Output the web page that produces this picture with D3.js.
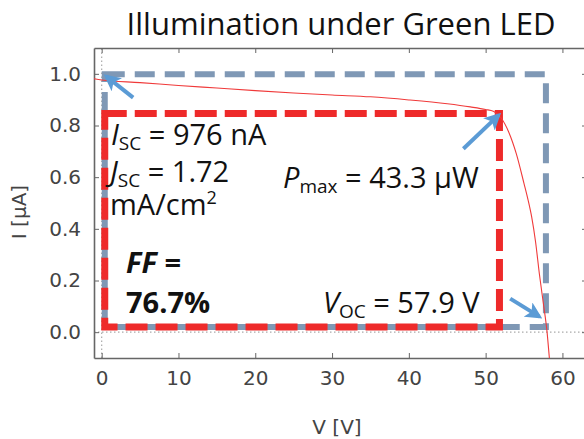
<!DOCTYPE html>
<html>
<head>
<meta charset="utf-8">
<script src="https://cdn.jsdelivr.net/npm/d3@7"></script>
<style>
  body { margin: 0; background: #fff; }
  svg { display: block; }
</style>
</head>
<body>
<div id="container"></div>
<script>
/* CONSTANTS AND GLOBALS */
const width = 584,
  height = 439,
  margin = { top: 48, bottom: 81, left: 94, right: -3 };

/* DATA */
// measured I-V curve
const voltage = [-1, 0, 5, 10, 15, 20, 25, 30, 35, 40, 45, 48, 50, 51, 52, 53, 54, 55, 55.5, 56, 56.5, 57, 57.5, 58, 58.3, 58.6];
const current = [0.981, 0.976, 0.966, 0.955, 0.945, 0.935, 0.926, 0.918, 0.911, 0.899, 0.884, 0.872, 0.862, 0.855, 0.83, 0.775, 0.69, 0.575, 0.515, 0.445, 0.35, 0.225, 0.115, 0.0, -0.1, -0.2];

const xTicks = [0, 10, 20, 30, 40, 50, 60];
const yTicks = [0.0, 0.2, 0.4, 0.6, 0.8, 1.0];

// rectangles: [v0, i0, v1, i1]
const maxPowerRect = [0.4, 0.02, 51.8, 0.846];
const idealRect = [0.4, 0.02, 57.85, 0.998];

// arrows: [tailV, tailI, tipV, tipI]
const arrows = [
  [4.1, 0.908, 0.6, 0.99],
  [47.1, 0.71, 51.7, 0.84],
  [53.2, 0.13, 57.0, 0.06]
];

/* SCALES */
const xScale = d3.scaleLinear()
  .domain([-1, 63.2])
  .range([margin.left, width - margin.right]);

const yScale = d3.scaleLinear()
  .domain([-0.1, 1.1])
  .range([height - margin.bottom, margin.top]);

/* HTML ELEMENTS */
const svg = d3.select("#container")
  .append("svg")
  .attr("width", width)
  .attr("height", height);

const axisColor = "#666";
const tickFont = "'DejaVu Sans', sans-serif";

// dotted zero lines
svg.append("line")
  .attr("x1", xScale(-1)).attr("x2", xScale(63.2))
  .attr("y1", yScale(0)).attr("y2", yScale(0))
  .attr("stroke", "#aaa").attr("stroke-width", 1.2)
  .attr("stroke-dasharray", "1.5,2.5");
svg.append("line")
  .attr("x1", xScale(0)).attr("x2", xScale(0))
  .attr("y1", yScale(-0.1)).attr("y2", yScale(1.1))
  .attr("stroke", "#aaa").attr("stroke-width", 1.2)
  .attr("stroke-dasharray", "1.5,2.5");

// axes (frame with inward ticks)
const xAxis = d3.axisBottom(xScale).tickValues(xTicks).tickSizeInner(-5).tickSizeOuter(0).tickPadding(13);
const yAxis = d3.axisLeft(yScale).tickValues(yTicks).tickSizeInner(-5).tickSizeOuter(0).tickPadding(13)
  .tickFormat(d3.format(".1f"));

const gx = svg.append("g")
  .attr("transform", `translate(0, ${height - margin.bottom})`)
  .call(xAxis);
const gy = svg.append("g")
  .attr("transform", `translate(${margin.left}, 0)`)
  .call(yAxis);
const gxTop = svg.append("g")
  .attr("transform", `translate(0, ${margin.top})`)
  .call(d3.axisTop(xScale).tickValues(xTicks).tickSizeInner(-5).tickSizeOuter(0).tickFormat(""));
const gyRight = svg.append("g")
  .attr("transform", `translate(${width - margin.right}, 0)`)
  .call(d3.axisRight(yScale).tickValues(yTicks).tickSizeInner(-5).tickSizeOuter(0).tickFormat(""));

[gx, gy, gxTop, gyRight].forEach(g => {
  g.select(".domain").attr("stroke", axisColor).attr("stroke-width", 1.6);
  g.selectAll(".tick line").attr("stroke", axisColor).attr("stroke-width", 1);
  g.selectAll(".tick text")
    .attr("fill", "#444")
    .style("font-family", tickFont)
    .style("font-size", "20px");
});

// rectangles
function rectPath(r) {
  const [v0, i0, v1, i1] = r;
  return `M${xScale(v0)},${yScale(i1)} L${xScale(v1)},${yScale(i1)} L${xScale(v1)},${yScale(i0)} L${xScale(v0)},${yScale(i0)} Z`;
}

svg.append("path")
  .attr("d", rectPath(idealRect))
  .attr("fill", "none")
  .attr("stroke", "#7f98b5")
  .attr("stroke-width", 6)
  .attr("stroke-dasharray", "20,10");

svg.append("path")
  .attr("d", rectPath(maxPowerRect))
  .attr("fill", "none")
  .attr("stroke", "#ee2a2a")
  .attr("stroke-width", 7)
  .attr("stroke-dasharray", "22,8");

// curve
const line = d3.line()
  .x(d => xScale(d[0]))
  .y(d => yScale(d[1]))
  .curve(d3.curveMonotoneX);

svg.append("defs").append("clipPath").attr("id", "plotclip")
  .append("rect")
  .attr("x", margin.left).attr("y", margin.top)
  .attr("width", width - margin.right - margin.left)
  .attr("height", height - margin.bottom - margin.top);

svg.append("path")
  .datum(d3.zip(voltage, current))
  .attr("clip-path", "url(#plotclip)")
  .attr("d", line)
  .attr("fill", "none")
  .attr("stroke", "#f03a3a")
  .attr("stroke-width", 1.1);

// arrows
const arrowColor = "#5b9bd5";
svg.select("defs").append("marker")
  .attr("id", "head")
  .attr("viewBox", "0 0 10 10")
  .attr("refX", 8).attr("refY", 5)
  .attr("markerWidth", 4.2).attr("markerHeight", 4.2)
  .attr("orient", "auto")
  .append("path")
  .attr("d", "M0,0 L10,5 L0,10 L2.5,5 Z")
  .attr("fill", arrowColor);

svg.selectAll(".arrow")
  .data(arrows)
  .join("line")
  .attr("class", "arrow")
  .attr("x1", d => xScale(d[0]))
  .attr("y1", d => yScale(d[1]))
  .attr("x2", d => xScale(d[2]))
  .attr("y2", d => yScale(d[3]))
  .attr("stroke", arrowColor)
  .attr("stroke-width", 4)
  .attr("marker-end", "url(#head)");

// titles
const labelFont = "'Open Sans', Lato, sans-serif";
svg.append("text")
  .attr("x", 341).attr("y", 35)
  .attr("text-anchor", "middle")
  .style("font-family", labelFont)
  .style("font-size", "31px")
  .attr("fill", "#111")
  .text("Illumination under Green LED");

svg.append("text")
  .attr("x", 337).attr("y", 434)
  .attr("text-anchor", "middle")
  .style("font-family", tickFont)
  .style("font-size", "20px")
  .attr("fill", "#444")
  .text("V [V]");

svg.append("text")
  .attr("transform", "translate(26, 212) rotate(-90)")
  .attr("text-anchor", "middle")
  .style("font-family", tickFont)
  .style("font-size", "20px")
  .attr("fill", "#444")
  .text("I [µA]");

// annotations
function annot(x, y, parts, opts = {}) {
  const t = svg.append("text")
    .attr("x", x).attr("y", y)
    .style("font-family", labelFont)
    .style("font-size", "29px")
    .style("font-weight", opts.bold ? "bold" : "normal")
    .attr("fill", "#111");
  parts.forEach(p => {
    const s = t.append("tspan").text(p.t);
    if (p.italic) s.style("font-style", "italic");
    if (p.sub) s.style("font-size", "19px").attr("dy", 5);
    if (p.after) s.attr("dy", -5);
    if (p.sup) s.style("font-size", "18px").attr("dy", -11);
  });
  return t;
}

annot(111, 145, [{ t: "I", italic: true }, { t: "SC", sub: true }, { t: " = 976 nA", after: true }]);
annot(110, 182, [{ t: "J", italic: true }, { t: "SC", sub: true }, { t: " = 1.72", after: true }]);
annot(110, 215, [{ t: "mA/cm" }, { t: "2", sup: true }]);
annot(283, 188, [{ t: "P", italic: true }, { t: "max", sub: true }, { t: " = 43.3 µW", after: true }]);
annot(126, 273, [{ t: "FF =", italic: true }], { bold: true });
annot(126, 313, [{ t: "76.7%" }], { bold: true });
annot(323, 313, [{ t: "V", italic: true }, { t: "OC", sub: true }, { t: " = 57.9 V", after: true }]);
</script>
</body>
</html>
